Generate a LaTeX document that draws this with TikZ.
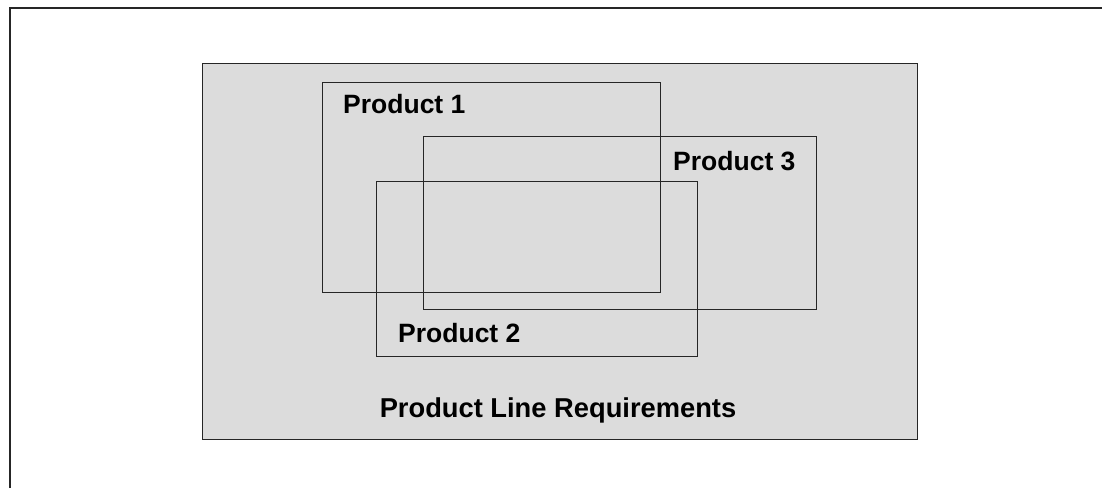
\documentclass[tikz,border=0pt]{standalone}
\usepackage{fontspec}
\setmainfont{Liberation Sans}
\usepackage{xcolor}
\definecolor{boxgray}{RGB}{220,220,220}

\begin{document}
\begin{tikzpicture}[x=1pt, y=-1pt,
      every node/.style = {inner sep=0pt},
      area/.style = {draw=black!85, line width=1.2pt, shape=rectangle, anchor=north west},
      title/.style = {font=\fontsize{26.5}{30}\selectfont\bfseries, anchor=west}]
  \useasboundingbox (0,0) rectangle (1102,488);
  % outer frame
  \draw[line width=2pt, black!85] (10,488) -- (10,8) -- (1102,8);
  % product line
  \node[area, fill=boxgray, minimum width=715pt, minimum height=376pt] (line) at (202,63) {};
  \node[font=\fontsize{27.3}{30}\selectfont\bfseries] (linelabel) at (558,410) {Product Line Requirements};
  % products
  \node[area, minimum width=338pt, minimum height=210pt] (p1) at (322,82) {};
  \node[area, minimum width=393pt, minimum height=173pt] (p3) at (423,136) {};
  \node[area, minimum width=321pt, minimum height=175pt] (p2) at (376,181) {};
  \node[title] (p1label) at (343,104) {Product 1};
  \node[title] (p3label) at (673,161) {Product 3};
  \node[title] (p2label) at (398,333) {Product 2};
\end{tikzpicture}
\end{document}
